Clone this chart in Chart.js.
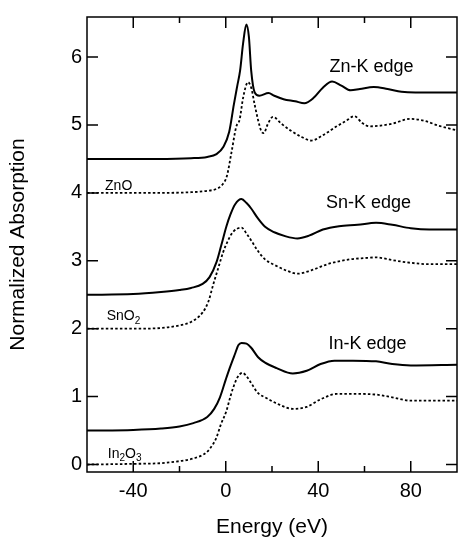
<!DOCTYPE html>
<html>
<head>
<meta charset="utf-8">
<script src="https://cdn.jsdelivr.net/npm/chart.js@4/dist/chart.umd.min.js"></script>
<style>
  body { margin: 0; background: #fff; }
  #wrap { width: 458px; height: 540px; position: relative; }
</style>
</head>
<body>
<div id="wrap"><canvas id="xanes"></canvas></div>
<script>
// Zn-K edge (sample, solid) and ZnO reference (dashed)
const znE   = [-60, -30, -15, -8, -4, -1, 1.5, 3.5, 5, 6.2, 7.5, 8.9, 10, 11, 12.5, 14.5, 18.5, 21, 25, 30, 34, 38, 42, 46, 50, 54, 58, 64, 70, 76, 82, 100];
const znAbs = [4.50, 4.50, 4.51, 4.53, 4.57, 4.68, 4.90, 5.30, 5.58, 5.80, 6.20, 6.48, 6.30, 5.80, 5.48, 5.43, 5.47, 5.43, 5.38, 5.35, 5.32, 5.40, 5.55, 5.64, 5.58, 5.51, 5.53, 5.56, 5.53, 5.49, 5.48, 5.48];
const znoE   = [-60, -30, -15, -8, -4, -1.5, 0.5, 2.5, 4.5, 6, 7.5, 9.6, 11, 12.5, 14, 15.5, 16.5, 18, 20.4, 24, 28, 33, 37, 42, 48, 52, 55.6, 59, 62, 67, 72, 80, 86, 92, 100];
const znoAbs = [4.00, 4.00, 4.01, 4.03, 4.06, 4.12, 4.25, 4.60, 4.97, 5.08, 5.40, 5.63, 5.55, 5.30, 5.07, 4.90, 4.88, 5.00, 5.12, 5.02, 4.92, 4.82, 4.77, 4.85, 4.98, 5.06, 5.13, 5.03, 4.98, 4.99, 5.02, 5.09, 5.06, 4.99, 4.92];

// Sn-K edge and SnO2
const snE   = [-60, -40, -28, -20, -15, -10, -7, -4, -2, 0.3, 2, 4, 6.8, 9, 11, 14, 17, 21, 26, 31, 36, 42, 49, 57, 65, 72, 80, 88, 100];
const snAbs = [2.50, 2.51, 2.54, 2.57, 2.60, 2.66, 2.76, 2.98, 3.22, 3.51, 3.68, 3.83, 3.91, 3.85, 3.77, 3.62, 3.50, 3.42, 3.36, 3.33, 3.37, 3.46, 3.51, 3.53, 3.56, 3.53, 3.48, 3.46, 3.46];
const sno2E   = [-60, -40, -28, -20, -15, -10, -7.5, -5.5, -3, -1.2, 1, 3, 6.8, 9, 11, 14, 17, 21, 26, 31, 37, 44, 53.5, 60, 65, 72, 80, 88, 100];
const sno2Abs = [2.00, 2.00, 2.01, 2.05, 2.10, 2.24, 2.40, 2.64, 2.92, 3.12, 3.30, 3.42, 3.49, 3.40, 3.30, 3.14, 3.02, 2.94, 2.86, 2.81, 2.86, 2.95, 3.02, 3.04, 3.05, 3.01, 2.97, 2.95, 2.95];

// In-K edge and In2O3
const inE   = [-60, -40, -28, -20, -14, -8, -5, -2.5, 0, 1.7, 3.9, 5.5, 6.8, 9, 11, 14, 17, 22, 29, 35, 41, 47, 55, 65, 72, 80, 100];
const inAbs = [0.50, 0.51, 0.53, 0.56, 0.61, 0.70, 0.82, 0.99, 1.25, 1.42, 1.62, 1.76, 1.79, 1.78, 1.72, 1.58, 1.50, 1.42, 1.34, 1.38, 1.48, 1.53, 1.53, 1.52, 1.48, 1.46, 1.47];
const in2o3E   = [-60, -40, -28, -20, -14, -8.3, -5.5, -4, -2, 0.3, 2, 3.2, 5, 7.2, 9, 11, 14, 17, 22, 29, 35, 41, 48, 56, 65, 72, 80, 100];
const in2o3Abs = [0.00, 0.01, 0.02, 0.05, 0.09, 0.18, 0.30, 0.40, 0.60, 0.79, 1.00, 1.13, 1.28, 1.35, 1.30, 1.20, 1.05, 0.99, 0.90, 0.82, 0.85, 0.96, 1.04, 1.04, 1.03, 0.99, 0.94, 0.94];

const xTicks = [-40, 0, 40, 80];
const xMinorTicks = [-20, 20, 60];
const yTicks = [0, 1, 2, 3, 4, 5, 6];

// curve labels: text, subscript parts, energy, absorption
const edgeLabels = ['Zn-K edge', 'Sn-K edge', 'In-K edge'];
const edgeLabelE = [63, 61.7, 61.3];
const edgeLabelY = [5.86, 3.85, 1.77];
const refLabels = [[['Zn', false], ['O', false]], [['SnO', false], ['2', true]], [['In', false], ['2', true], ['O', false], ['3', true]]];
const refLabelE = [-52.2, -51.5, -51.0];
const refLabelY = [4.10, 2.18, 0.16];

const FONT = "Arial, 'Liberation Sans', Helvetica, sans-serif";

function toPoints(xs, ys) {
    return xs.map((x, i) => ({ x: x, y: ys[i] }));
}

function curve(xs, ys, dashed) {
    return {
        data: toPoints(xs, ys),
        borderColor: '#000',
        borderWidth: dashed ? 1.8 : 2,
        borderDash: dashed ? [2.5, 2.2] : [],
        pointRadius: 0,
        cubicInterpolationMode: 'monotone',
        fill: false
    };
}

// frame, inward ticks and text labels
const decorations = {
    id: 'decorations',
    afterDatasetsDraw(chart) {
        const ctx = chart.ctx;
        const { left, right, top, bottom } = chart.chartArea;
        const xs = chart.scales.x;
        const ys = chart.scales.y;
        ctx.save();
        ctx.strokeStyle = '#000';
        ctx.lineWidth = 1.5;
        ctx.strokeRect(left, top, right - left, bottom - top);

        ctx.beginPath();
        xTicks.forEach(v => {
            const px = xs.getPixelForValue(v);
            ctx.moveTo(px, bottom); ctx.lineTo(px, bottom - 11);
            ctx.moveTo(px, top); ctx.lineTo(px, top + 11);
        });
        xMinorTicks.forEach(v => {
            const px = xs.getPixelForValue(v);
            ctx.moveTo(px, bottom); ctx.lineTo(px, bottom - 6);
            ctx.moveTo(px, top); ctx.lineTo(px, top + 6);
        });
        yTicks.forEach(v => {
            const py = ys.getPixelForValue(v);
            ctx.moveTo(left, py); ctx.lineTo(left + 11, py);
            ctx.moveTo(right, py); ctx.lineTo(right - 11, py);
        });
        ctx.stroke();

        ctx.fillStyle = '#000';
        ctx.font = '18px ' + FONT;
        ctx.textAlign = 'center';
        ctx.textBaseline = 'middle';
        edgeLabels.forEach((t, i) => {
            ctx.fillText(t, xs.getPixelForValue(edgeLabelE[i]), ys.getPixelForValue(edgeLabelY[i]));
        });

        ctx.textAlign = 'left';
        refLabels.forEach((parts, i) => {
            let px = xs.getPixelForValue(refLabelE[i]);
            const py = ys.getPixelForValue(refLabelY[i]);
            parts.forEach(([txt, sub]) => {
                ctx.font = (sub ? '10px ' : '14px ') + FONT;
                ctx.fillText(txt, px, sub ? py + 5 : py);
                px += ctx.measureText(txt).width;
            });
        });
        ctx.restore();
    }
};

new Chart(document.getElementById('xanes'), {
    type: 'line',
    data: {
        datasets: [
            curve(znE, znAbs, false),
            curve(znoE, znoAbs, true),
            curve(snE, snAbs, false),
            curve(sno2E, sno2Abs, true),
            curve(inE, inAbs, false),
            curve(in2o3E, in2o3Abs, true)
        ]
    },
    options: {
        responsive: true,
        maintainAspectRatio: false,
        animation: false,
        layout: { padding: { top: 12, right: 1, left: 0, bottom: 0 } },
        plugins: { legend: { display: false }, tooltip: { enabled: false } },
        scales: {
            x: {
                type: 'linear',
                min: -60,
                max: 100,
                afterBuildTicks: s => { s.ticks = xTicks.map(v => ({ value: v })); },
                afterFit: s => { s.height = 68; },
                grid: { display: false, drawTicks: false },
                border: { display: false },
                ticks: { color: '#000', padding: 7, maxRotation: 0, font: { family: FONT, size: 20 } },
                title: { display: true, text: 'Energy (eV)', color: '#000', padding: { top: 0, bottom: 0 }, font: { family: FONT, size: 21 } }
            },
            y: {
                type: 'linear',
                min: -0.11,
                max: 6.59,
                afterBuildTicks: s => { s.ticks = yTicks.map(v => ({ value: v })); },
                afterFit: s => { s.width = 87; },
                grid: { display: false, drawTicks: false },
                border: { display: false },
                ticks: { color: '#000', padding: 5, font: { family: FONT, size: 20 } },
                title: { display: true, text: 'Normalized Absorption', color: '#000', padding: { top: 6, bottom: 0 }, font: { family: FONT, size: 21 } }
            }
        }
    },
    plugins: [decorations]
});
</script>
</body>
</html>
